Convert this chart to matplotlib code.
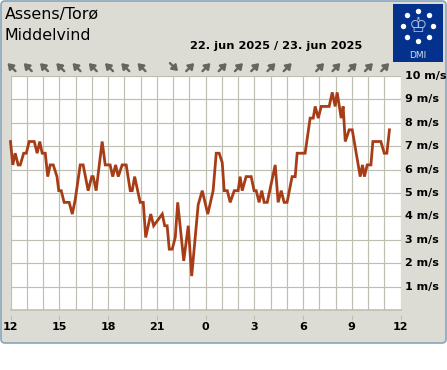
import numpy as np
import matplotlib
matplotlib.use('Agg')
import matplotlib.pyplot as plt
from matplotlib.patches import FancyBboxPatch, Rectangle

W, H = 447, 370

# wind speed: hours after 12:00, m/s
hours = [0, .14, .29, .47, .60, .81, .97, 1.15, 1.46, 1.64, 1.80, 1.95, 2.14, 2.29, 2.44, 2.63,
         2.86, 2.97, 3.12, 3.30, 3.61, 3.80, 3.98, 4.29, 4.47, 4.78, 5.0, 5.09, 5.27, 5.64, 5.83,
         6.13, 6.29, 6.47, 6.63, 6.87, 7.12, 7.37, 7.49, 7.64, 7.98, 8.17, 8.32, 8.63, 8.81,
         9.34, 9.49, 9.64, 9.77, 9.95, 10.14, 10.29, 10.66, 10.94, 11.15, 11.55, 11.80, 12.14,
         12.47, 12.66, 12.84, 13.03, 13.15, 13.34, 13.52, 13.77, 14.01, 14.13, 14.26, 14.5, 14.81,
         14.99, 15.12, 15.3, 15.46, 15.61, 15.8, 16.29, 16.47, 16.66, 16.84, 17.02, 17.33, 17.52,
         17.64, 18.13, 18.44, 18.63, 18.75, 18.94, 19.12, 19.61, 19.80, 19.98, 20.1, 20.35, 20.47,
         20.6, 20.84, 21.03, 21.52, 21.66, 21.78, 21.95, 22.18, 22.3, 22.79, 23.0, 23.16, 23.32]
speeds = [7.2, 6.2, 6.7, 6.2, 6.2, 6.7, 6.7, 7.2, 7.2, 6.7, 7.2, 6.7, 6.7, 5.7, 6.2, 6.2,
          5.7, 5.1, 5.1, 4.6, 4.6, 4.1, 4.7, 6.2, 6.2, 5.1, 5.7, 5.7, 5.1, 7.2, 6.2,
          6.2, 5.7, 6.2, 5.7, 6.2, 6.2, 5.1, 5.1, 5.7, 4.6, 4.6, 3.1, 4.1, 3.6,
          4.1, 3.6, 3.6, 2.6, 2.6, 3.1, 4.6, 2.1, 3.6, 1.45, 4.5, 5.1, 4.1,
          5.1, 6.7, 6.7, 6.3, 5.1, 5.1, 4.6, 5.1, 5.1, 5.7, 5.1, 5.7, 5.7,
          5.1, 5.1, 4.6, 5.1, 4.6, 4.6, 6.2, 4.6, 5.1, 4.6, 4.6, 5.7, 5.7,
          6.7, 6.7, 8.2, 8.2, 8.7, 8.2, 8.7, 8.7, 9.3, 8.7, 9.3, 8.2, 8.7,
          7.2, 7.7, 7.7, 5.7, 6.2, 5.7, 6.2, 6.2, 7.2, 7.2, 6.7, 6.7, 7.7]

# wind arrows along the top, one per hour
arrow_hours = [0, 1, 2, 3, 4, 5, 6, 7, 8, 10, 11, 12, 13, 14, 15, 16, 17, 19, 20, 21, 22, 23]
arrow_dirs = ['NW'] * 9 + ['SE'] + ['NE'] * 12

hour_ticks = [0, 3, 6, 9, 12, 15, 18, 21, 24]
hour_labels = ['12', '15', '18', '21', '0', '3', '6', '9', '12']
speed_ticks = [1, 2, 3, 4, 5, 6, 7, 8, 9, 10]

BG = '#dcdcd4'
GRID = '#bfbfb1'
LINE = '#a73d17'
ARROW = '#66665f'
LOGO = '#03318c'

fig = plt.figure(figsize=(W / 100, H / 100), dpi=100, facecolor='white')


def px_axes(x0, y0, x1, y1):
    return fig.add_axes([x0 / W, 1 - y1 / H, (x1 - x0) / W, (y1 - y0) / H])


# card behind everything, in pixel coordinates
bg = fig.add_axes([0, 0, 1, 1])
bg.set_xlim(0, W)
bg.set_ylim(H, 0)
bg.axis('off')
bg.add_patch(FancyBboxPatch((1, 1), W - 2, 342, boxstyle='round,pad=0,rounding_size=4',
                            fc=BG, ec='#86a6bb', lw=1.2))
bg.text(5, 15, 'Assens/Torø', fontsize=11.4, color='black', va='center', ha='left')
bg.text(5, 35, 'Middelvind', fontsize=11.4, color='black', va='center', ha='left')
bg.text(276, 46, '22. jun 2025 / 23. jun 2025', fontsize=8.2, fontweight='bold', ha='center', va='center')

# chart
ax = px_axes(10.5, 76, 400.5, 310)
ax.set_xlim(0, 24)
ax.set_ylim(0, 10)
ax.set_facecolor('white')
ax.set_xticks(range(0, 25), minor=True)
ax.set_xticks(hour_ticks)
ax.set_xticklabels(hour_labels)
ax.set_yticks(speed_ticks)
ax.set_yticklabels([])
ax.grid(True, which='both', color=GRID, lw=0.85)
ax.set_axisbelow(True)
ax.tick_params(axis='x', which='major', length=3.6, width=0.8, color=GRID, pad=1.5)
ax.tick_params(axis='x', which='minor', length=0)
ax.tick_params(axis='y', length=0)
for s in ax.spines.values():
    s.set_visible(False)
ax.spines['bottom'].set_position(('outward', 3.6))
ax.axhline(0, color=GRID, lw=1.2, clip_on=False)
ax.plot(hours, speeds, color=LINE, lw=2.0, solid_joinstyle='miter', clip_on=False)
for lab in ax.get_xticklabels():
    lab.set_fontsize(8)
    lab.set_fontweight('bold')

for v in speed_ticks:
    ax.text(1.012, v / 10, f'{v} m/s', transform=ax.transAxes, fontsize=8, fontweight='bold',
            va='center', ha='left', clip_on=False)

# thick arrows, sized in pixels around the hour position
fig.canvas.draw()
steps = {'NW': (-4, 4), 'NE': (4, 4), 'SE': (4, -4)}
for h, d in zip(arrow_hours, arrow_dirs):
    cx, cy = ax.transData.transform((h + 0.06, 10.38))
    dx, dy = steps[d]
    ax.annotate('', xy=(cx + dx, cy + dy), xytext=(cx - dx, cy - dy), xycoords='figure pixels',
                textcoords='figure pixels', annotation_clip=False,
                arrowprops=dict(arrowstyle='-|>,head_length=0.32,head_width=0.22', color=ARROW,
                                lw=1.7, shrinkA=0, shrinkB=0, mutation_scale=10))

# DMI logo
lg = px_axes(393, 4, 443, 62)
lg.set_xlim(0, 50)
lg.set_ylim(58, 0)
lg.axis('off')
lg.add_patch(Rectangle((0, 0), 50, 58, fc=LOGO, ec='none'))
ang = np.deg2rad(np.arange(0, 360, 45))
lg.scatter(25 + 15 * np.cos(ang), 22 + 15 * np.sin(ang), s=15, c='white', linewidths=0)
lg.text(25, 22, '♔', fontsize=15, color='#a9bbdc', ha='center', va='center')
lg.text(25, 51, 'DMI', fontsize=6.5, color='#d5def0', ha='center', va='center')

fig.savefig('out.png', dpi=100, facecolor='white')
